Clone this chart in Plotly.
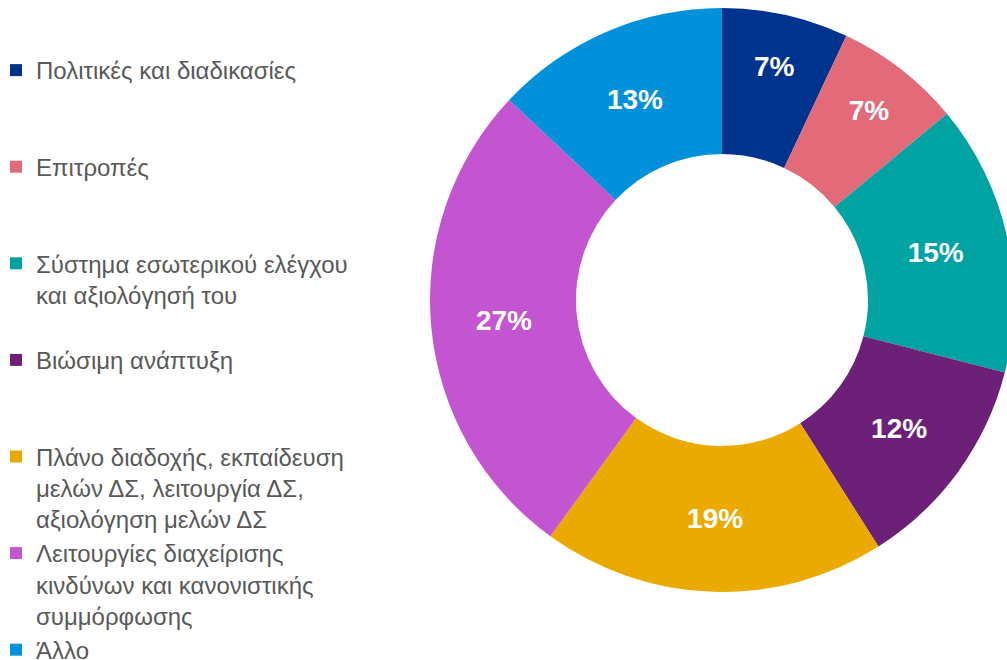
"""Donut chart: board topics breakdown."""
import plotly.graph_objects as go

# legend labels (wrapped as in the source) and slice values (%)
labels = [
    "Πολιτικές και διαδικασίες",
    "Επιτροπές",
    "Σύστημα εσωτερικού ελέγχου<br>και αξιολόγησή του",
    "Βιώσιμη ανάπτυξη",
    "Πλάνο διαδοχής, εκπαίδευση<br>μελών ΔΣ, λειτουργία ΔΣ,<br>αξιολόγηση μελών ΔΣ",
    "Λειτουργίες διαχείρισης<br>κινδύνων και κανονιστικής<br>συμμόρφωσης",
    "Άλλο",
]
values = [7, 7, 15, 12, 19, 27, 13]
colors = ["#00338D", "#E36B79", "#00A3A1", "#6D2077", "#EAAA00", "#C355D0", "#0091DA"]

W, H = 1022, 660
TOP, BOTTOM = 8, 68
CX, R = 722, 292


def pad_lines(label: str, n: int = 3) -> str:
    """Pad a legend label to n lines so every entry takes the same height."""
    count = label.count("<br>") + 1
    return label + "<br>\u00a0" * max(n - count, 0)


# every entry but the last is padded to three lines
legend_labels = [pad_lines(l) for l in labels[:-1]] + [labels[-1]]

fig = go.Figure()
fig.add_trace(
    go.Pie(
        labels=legend_labels,
        values=values,
        sort=False,
        direction="clockwise",
        rotation=0,
        hole=0.5,
        marker=dict(colors=colors, line=dict(width=0)),
        texttemplate="%{percent:.0%}",
        textposition="inside",
        insidetextorientation="horizontal",
        textfont=dict(family="Arial, Liberation Sans", size=28, color="white", weight="bold"),
        domain=dict(x=[(CX - R) / W, (CX + R) / W], y=[0, 1]),
    )
)

fig.update_layout(
    width=W,
    height=H,
    margin=dict(t=TOP, b=BOTTOM, l=0, r=0, autoexpand=False),
    paper_bgcolor="white",
    font=dict(family="Arial, Liberation Sans", color="#595959"),
    legend=dict(
        x=-4 / W,
        y=1 - (48 - TOP) / (H - TOP - BOTTOM),
        xanchor="left",
        yanchor="top",
        valign="top",
        maxheight=900,
        font=dict(size=24, color="#595959"),
        bgcolor="rgba(0,0,0,0)",
    ),
)

fig.write_html(
    "out.html",
    config={"displayModeBar": False},
    post_script="document.body.style.margin='0';document.body.style.overflow='hidden';",
)
